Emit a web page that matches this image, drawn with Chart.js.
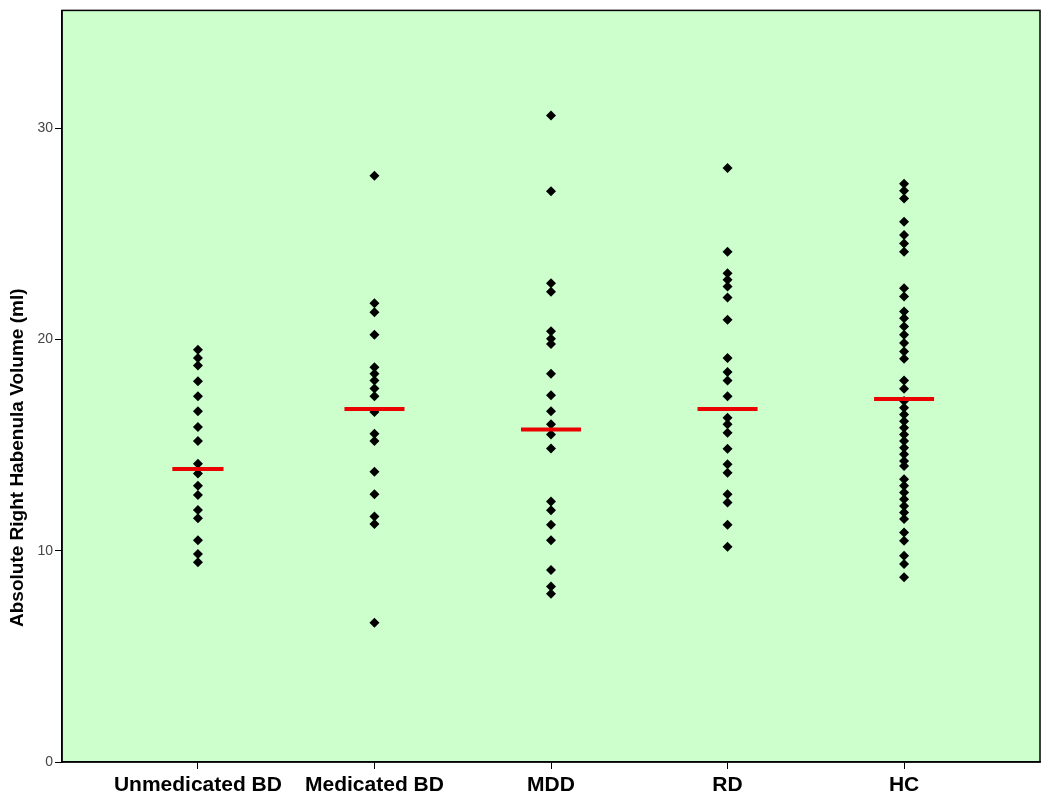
<!DOCTYPE html>
<html>
<head>
<meta charset="utf-8">
<script src="https://cdn.jsdelivr.net/npm/chart.js@4"></script>
<style>
html,body{margin:0;padding:0;background:#fff;}
#wrap{width:1050px;height:807px;position:relative;}
</style>
</head>
<body>
<div id="wrap"><canvas id="c"></canvas></div>
<script>
const categories = ["Unmedicated BD", "Medicated BD", "MDD", "RD", "HC"];
const unmedicatedBD = [19.51, 19.12, 18.76, 18.02, 17.31, 16.60, 15.86, 15.19, 14.12, 13.65, 13.07, 12.64, 11.93, 11.54, 10.50, 9.84, 9.45];
const medicatedBD = [27.74, 21.71, 21.29, 20.22, 18.68, 18.37, 18.06, 17.68, 17.31, 16.56, 15.53, 15.19, 13.74, 12.67, 11.62, 11.26, 6.59];
const mdd = [30.60, 27.01, 22.66, 22.26, 20.38, 20.03, 19.78, 18.38, 17.36, 16.60, 15.98, 15.50, 14.84, 12.33, 11.92, 11.23, 10.50, 9.09, 8.30, 7.96];
const rd = [28.11, 24.15, 23.13, 22.82, 22.50, 21.98, 20.93, 19.12, 18.46, 18.05, 17.31, 16.29, 15.98, 15.58, 14.83, 14.09, 13.69, 12.67, 12.28, 11.23, 10.19];
const hc = [27.37, 27.03, 26.67, 25.57, 24.94, 24.54, 24.15, 22.42, 22.03, 21.32, 21.00, 20.61, 20.22, 19.83, 19.43, 19.09, 18.05, 17.67, 17.08, 16.76, 16.45, 16.13, 15.82, 15.50, 15.19, 14.87, 14.56, 14.25, 14.01, 13.38, 13.07, 12.75, 12.44, 12.12, 11.81, 11.50, 10.86, 10.47, 9.76, 9.37, 8.74];
const means = [13.87, 16.71, 15.74, 16.71, 17.18];
const yTicks = [0, 10, 20, 30];
const yTitle = 'Absolute Right Habenula Volume (ml)';

const groups = [unmedicatedBD, medicatedBD, mdd, rd, hc];
const halfW = [0.145, 0.17, 0.17, 0.17, 0.17];

const datasets = [];
groups.forEach((vals, i) => {
  datasets.push({
    type: 'scatter',
    data: vals.map(v => ({x: i + 1, y: v})),
    pointStyle: 'rectRot',
    pointRadius: 5,
    pointHoverRadius: 5,
    backgroundColor: '#000',
    borderColor: '#000',
    borderWidth: 0,
    order: 2
  });
});
means.forEach((m, i) => {
  datasets.push({
    type: 'line',
    data: [{x: i + 1 - halfW[i], y: m}, {x: i + 1 + halfW[i], y: m}],
    borderColor: 'rgb(235,0,0)',
    borderWidth: 4,
    pointRadius: 0,
    fill: false,
    order: 1
  });
});

const bgPlugin = {
  id: 'bg',
  beforeDraw(chart) {
    const {ctx, chartArea: a} = chart;
    ctx.save();
    ctx.fillStyle = '#ccffcc';
    ctx.fillRect(a.left, a.top, a.right - a.left, a.bottom - a.top);
    ctx.restore();
  },
  afterDraw(chart) {
    const {ctx, chartArea: a} = chart;
    ctx.save();
    ctx.strokeStyle = '#000';
    ctx.lineWidth = 1.5;
    ctx.strokeRect(a.left, a.top, a.right - a.left, a.bottom - a.top);
    // y axis title (placed as in the reference, off the axis centre)
    const ys = chart.scales.y;
    ctx.translate(18, ys.getPixelForValue(14.4));
    ctx.rotate(-Math.PI / 2);
    ctx.textAlign = 'center';
    ctx.textBaseline = 'middle';
    ctx.fillStyle = '#000';
    ctx.font = 'bold 19px "Liberation Sans", Arial, sans-serif';
    ctx.fillText(yTitle, 0, 0);
    ctx.restore();
  }
};

new Chart(document.getElementById('c'), {
  type: 'scatter',
  data: {datasets},
  plugins: [bgPlugin],
  options: {
    responsive: true,
    maintainAspectRatio: false,
    animation: false,
    layout: {padding: {top: 8, right: 10, left: 0, bottom: 0}},
    plugins: {legend: {display: false}, tooltip: {enabled: false}},
    scales: {
      x: {
        type: 'linear',
        min: 0.23,
        max: 5.77,
        afterBuildTicks(s) { s.ticks = categories.map((c, i) => ({value: i + 1})); },
        afterFit(s) { s.height = 45; },
        ticks: {
          callback: (v) => categories[Math.round(v) - 1] || '',
          color: '#000',
          font: {family: 'Liberation Sans, Arial, sans-serif', size: 21, weight: 'bold'},
          padding: 4,
          maxRotation: 0,
          autoSkip: false
        },
        grid: {drawOnChartArea: false, drawTicks: true, tickLength: 7, color: '#000', lineWidth: 1},
        border: {display: true, color: '#000', width: 1.5}
      },
      y: {
        min: 0,
        max: 35.57,
        afterBuildTicks(s) { s.ticks = yTicks.map(v => ({value: v})); },
        afterFit(s) { s.width = 62; },
        ticks: {
          color: '#444',
          font: {family: 'Liberation Sans, Arial, sans-serif', size: 14},
          padding: 2
        },
        grid: {drawOnChartArea: false, drawTicks: true, tickLength: 7, color: '#000', lineWidth: 1},
        border: {display: true, color: '#000', width: 1.5}
      }
    }
  }
});
</script>
</body>
</html>
